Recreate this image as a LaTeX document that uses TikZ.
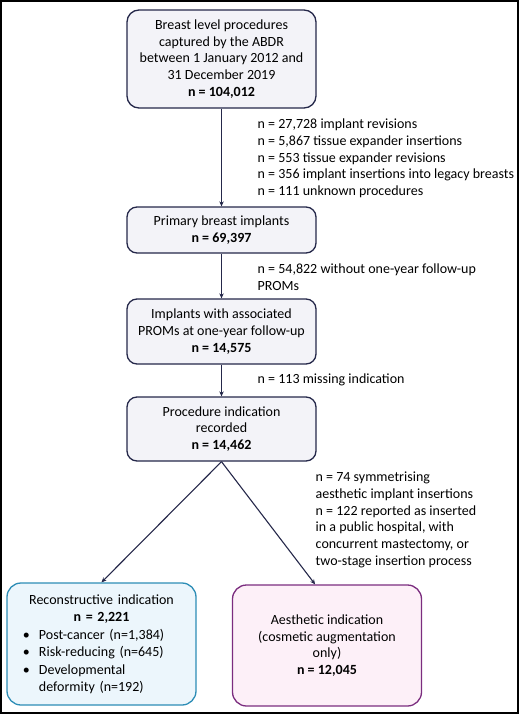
\documentclass[tikz,border=0pt]{standalone}
\usepackage{fontspec}
\setmainfont{Carlito}
\usetikzlibrary{arrows.meta}

\definecolor{navyline}{HTML}{25284A}
\definecolor{greyfill}{HTML}{F3F3F8}
\definecolor{reconline}{HTML}{2D8DB6}
\definecolor{reconfill}{HTML}{ECF6FC}
\definecolor{aesthline}{HTML}{7B2D7F}
\definecolor{aesthfill}{HTML}{FDF0F8}

\begin{document}
\begin{tikzpicture}[x=1pt,y=-1pt]
				\tikzstyle{every node}=[font=\fontsize{14}{16.7}\selectfont]
				\tikzstyle{flowbox}=[draw=navyline,fill=greyfill,line width=1.3pt,
				rounded corners=10pt,minimum width=189pt,align=center,inner sep=0pt]
				\tikzstyle{sidenote}=[anchor=west,align=left,inner sep=0pt]
				\tikzstyle{flowarrow}=[draw=navyline,line width=1.1pt,
				-{Stealth[length=5pt,width=4.5pt]}]
				\useasboundingbox (0,0) rectangle (520,715);
				\draw[line width=1.6pt] (1,1) rectangle (518,713);
				% main column
				\node[flowbox,minimum height=98pt,rounded corners=12pt] (captured) at (221.5,59)
				{Breast level procedures\\captured by the ABDR\\between 1 January 2012 and\\31 December 2019\\\textbf{n = 104,012}};
				\node[flowbox,minimum height=46pt] (primary) at (221.5,230)
				{Primary breast implants\\\textbf{n = 69,397}};
				\node[flowbox,minimum height=65pt] (proms) at (221.5,331.5)
				{Implants with associated\\PROMs at one-year follow-up\\\textbf{n = 14,575}};
				\node[flowbox,minimum height=64pt] (indication) at (221.5,429)
				{Procedure indication\\recorded\\\textbf{n = 14,462}};
				% two outcomes
				\node[flowbox,draw=reconline,fill=reconfill,minimum height=122pt,
				rounded corners=14pt,text width=157pt,align=left,inner xsep=16pt] (recon) at (101.5,644)
				{\fontsize{14}{17.6}\selectfont
				{\centering Reconstructive indication\\\textbf{n = 2,221}\par}
				\makebox[16pt][l]{\textbullet}Post-cancer (n=1,384)\\
				\makebox[16pt][l]{\textbullet}Risk-reducing (n=645)\\
				\makebox[16pt][l]{\textbullet}Developmental\\
				\hspace*{16pt}deformity (n=192)};
				\node[flowbox,draw=aesthline,fill=aesthfill,minimum height=121pt,
				rounded corners=14pt] (aesth) at (327,645.5)
				{Aesthetic indication\\(cosmetic augmentation\\only)\\\textbf{n = 12,045}};
				% exclusions
				\node[sidenote] (excl1) at (257.5,158.5)
				{n = 27,728 implant revisions\\n = 5,867 tissue expander insertions\\n = 553 tissue expander revisions\\n = 356 implant insertions into legacy breasts\\n = 111 unknown procedures};
				\node[sidenote] (excl2) at (257.5,277.5)
				{n = 54,822 without one-year follow-up\\PROMs};
				\node[sidenote] (excl3) at (257.5,380)
				{n = 113 missing indication};
				\node[sidenote] (excl4) at (315.5,520)
				{n = 74 symmetrising\\aesthetic implant insertions\\n = 122 reported as inserted\\in a public hospital, with\\concurrent mastectomy, or\\two-stage insertion process};
				% connectors
				\draw[flowarrow] (captured) -- (primary);
				\draw[flowarrow] (primary) -- (proms);
				\draw[flowarrow] (proms) -- (indication);
				\draw[flowarrow] (indication.south) -- (recon.north);
				\draw[flowarrow] (indication.south) -- (aesth.101);
\end{tikzpicture}
\end{document}
